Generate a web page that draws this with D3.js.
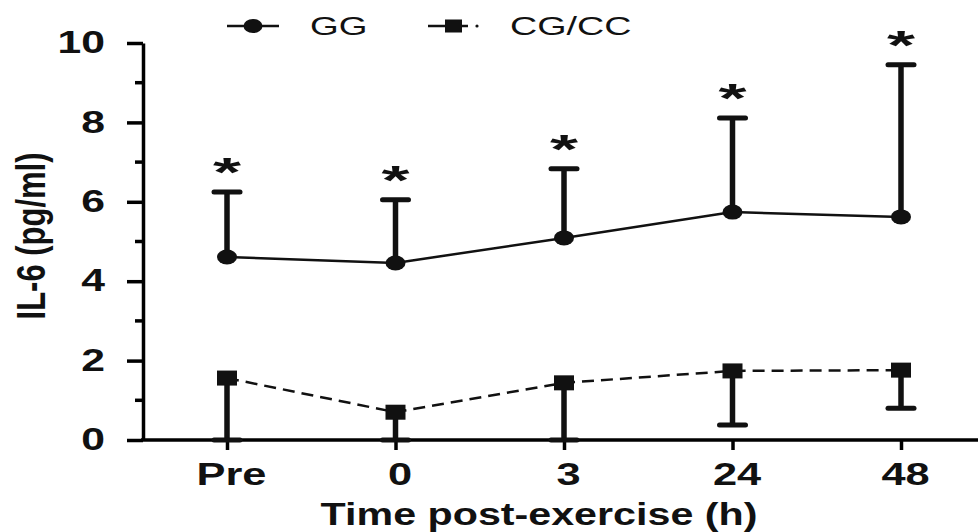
<!DOCTYPE html>
<html><head><meta charset="utf-8">
<script src="https://cdn.jsdelivr.net/npm/d3@7"></script>
<style>body{margin:0;background:#fff}svg{display:block}text{font-family:"Liberation Sans",Arial,sans-serif}</style>
</head><body>
<svg id="c" width="978" height="532"></svg>
<script>
const categories = ["Pre","0","3","24","48"];
const ggMean = [4.61, 4.46, 5.09, 5.74, 5.62];
const ggUpper = [6.25, 6.05, 6.83, 8.11, 9.45];
const ccMean = [1.56, 0.70, 1.44, 1.74, 1.76];
const ccLower = [0, 0, 0, 0.38, 0.80];
const yTicks = [0, 2, 4, 6, 8, 10];
const yMinor = [1, 3, 5, 7, 9];

const SX = 1.4; // horizontal stretch of the original figure's text
const svg = d3.select("#c");
const x = d3.scalePoint().domain(categories).range([227, 901]);
const y = d3.scaleLinear().domain([0, 10]).range([440, 43]);

// y axis
const yAxis = svg.append("g").attr("transform","translate(143,0)")
  .call(d3.axisLeft(y).tickValues(yTicks).tickSize(16).tickPadding(24).tickSizeOuter(0));
yAxis.select(".domain").attr("stroke","#000").attr("stroke-width",3.5);
yAxis.selectAll(".tick line").attr("stroke-width",3.5);
yAxis.selectAll(".tick text").attr("font-size",30.5).attr("font-weight","bold").attr("fill","#111")
  .attr("x",-38/SX).attr("transform",`scale(${SX},1)`);
svg.append("g").attr("transform","translate(143,0)").selectAll("line").data(yMinor).join("line")
  .attr("x1",-8).attr("x2",0).attr("y1",d=>y(d)).attr("y2",d=>y(d)).attr("stroke","#000").attr("stroke-width",3.5);

// x axis
svg.append("line").attr("x1",141).attr("x2",978).attr("y1",y(0)).attr("y2",y(0)).attr("stroke","#000").attr("stroke-width",3.5);
const xAxis = svg.append("g").attr("transform",`translate(0,${y(0)})`)
  .call(d3.axisBottom(x).tickSize(10).tickPadding(14).tickSizeOuter(0));
xAxis.select(".domain").remove();
xAxis.selectAll(".tick line").attr("stroke-width",3.5);
xAxis.selectAll(".tick text").attr("font-size",31).attr("font-weight","bold").attr("fill","#111")
  .attr("x",4/SX).attr("y",45).attr("dy","0").attr("transform",`scale(${SX},1)`);

// axis titles
svg.append("text").attr("transform",`translate(539,525) scale(1.33,1)`).attr("text-anchor","middle")
  .attr("font-size",31).attr("font-weight","bold").attr("fill","#111").text("Time post-exercise (h)");
svg.append("text").attr("transform","translate(45,236) rotate(-90) scale(1,1.3)").attr("text-anchor","middle")
  .attr("font-size",31).attr("font-weight","bold").attr("fill","#111").text("IL-6 (pg/ml)");

// GG error bars (upward)
const gg = svg.append("g");
gg.selectAll(".eb").data(categories).join("line")
  .attr("x1",d=>x(d)).attr("x2",d=>x(d)).attr("y1",(d,i)=>y(ggMean[i])).attr("y2",(d,i)=>y(ggUpper[i]))
  .attr("stroke","#111").attr("stroke-width",5.5);
gg.selectAll(".cap").data(categories).join("line")
  .attr("x1",d=>x(d)-13).attr("x2",d=>x(d)+13).attr("y1",(d,i)=>y(ggUpper[i])).attr("y2",(d,i)=>y(ggUpper[i]))
  .attr("stroke","#111").attr("stroke-width",5).attr("stroke-linecap","round");
gg.append("path").datum(categories)
  .attr("d", d3.line().x(d=>x(d)).y((d,i)=>y(ggMean[i])))
  .attr("fill","none").attr("stroke","#111").attr("stroke-width",2.5);
gg.selectAll("ellipse").data(categories).join("ellipse")
  .attr("cx",d=>x(d)).attr("cy",(d,i)=>y(ggMean[i])).attr("rx",10).attr("ry",7.5).attr("fill","#111");
gg.selectAll(".star").data(categories).join("text")
  .attr("transform",(d,i)=>`translate(${x(d)},${y(ggUpper[i])-6}) scale(1.8,1)`).attr("text-anchor","middle")
  .attr("font-size",40).attr("font-weight","bold").attr("fill","#111").text("*");

// CG/CC error bars (downward)
const cc = svg.append("g");
cc.selectAll(".eb").data(categories).join("line")
  .attr("x1",d=>x(d)).attr("x2",d=>x(d)).attr("y1",(d,i)=>y(ccMean[i])).attr("y2",(d,i)=>y(ccLower[i]))
  .attr("stroke","#111").attr("stroke-width",5.5);
cc.selectAll(".cap").data(categories).join("line")
  .attr("x1",d=>x(d)-13).attr("x2",d=>x(d)+13).attr("y1",(d,i)=>y(ccLower[i])).attr("y2",(d,i)=>y(ccLower[i]))
  .attr("stroke","#111").attr("stroke-width",5).attr("stroke-linecap","round");
cc.append("path").datum(categories)
  .attr("d", d3.line().x(d=>x(d)).y((d,i)=>y(ccMean[i])))
  .attr("fill","none").attr("stroke","#111").attr("stroke-width",2.5).attr("stroke-dasharray","12,7");
cc.selectAll("rect").data(categories).join("rect")
  .attr("x",d=>x(d)-10).attr("y",(d,i)=>y(ccMean[i])-7.5).attr("width",20).attr("height",15).attr("fill","#111");

// legend
const lg = svg.append("g");
lg.append("line").attr("x1",227).attr("x2",279).attr("y1",26).attr("y2",26).attr("stroke","#111").attr("stroke-width",2.5);
lg.append("ellipse").attr("cx",253).attr("cy",26).attr("rx",9.5).attr("ry",7).attr("fill","#111");
lg.append("text").attr("transform",`translate(310,35) scale(1.42,1)`).attr("font-size",26).attr("fill","#111").text("GG");
lg.append("line").attr("x1",428).attr("x2",468).attr("y1",26).attr("y2",26).attr("stroke","#111").attr("stroke-width",2.5);
lg.append("rect").attr("x",445).attr("y",19.5).attr("width",17).attr("height",13).attr("fill","#111");
lg.append("circle").attr("cx",477).attr("cy",26).attr("r",1.6).attr("fill","#111");
lg.append("text").attr("transform",`translate(510,35) scale(1.45,1)`).attr("font-size",26).attr("fill","#111").text("CG/CC");
</script>
</body></html>
